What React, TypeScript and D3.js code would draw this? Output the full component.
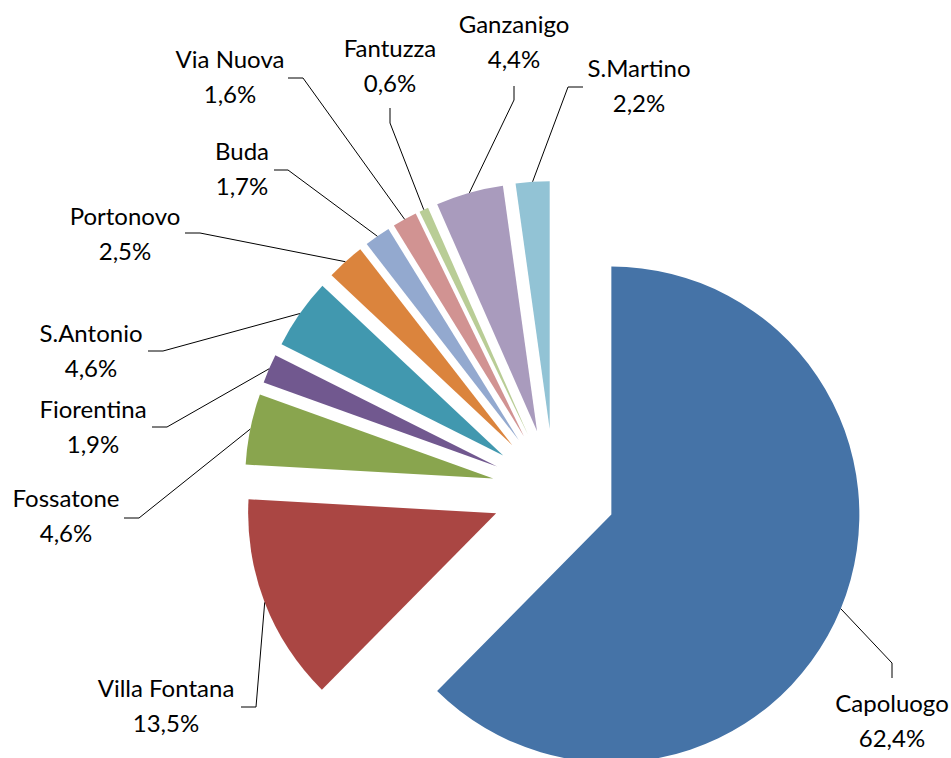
import React from "react";
import * as d3 from "d3";

const categories = [
  "Capoluogo",
  "Villa Fontana",
  "Fossatone",
  "Fiorentina",
  "S.Antonio",
  "Portonovo",
  "Buda",
  "Via Nuova",
  "Fantuzza",
  "Ganzanigo",
  "S.Martino",
];
const values = [62.4, 13.5, 4.6, 1.9, 4.6, 2.5, 1.7, 1.6, 0.6, 4.4, 2.2];
const colors = [
  "#4573A7",
  "#AA4643",
  "#89A54E",
  "#71588F",
  "#4198AF",
  "#DB843D",
  "#93A9CF",
  "#D19392",
  "#B9CD96",
  "#A99BBD",
  "#92C3D5",
];

// label layout (manually placed labels, as in the original)
const labelX = [892, 166, 66, 93, 91, 125, 242, 230, 390, 514, 639];
const labelY = [712, 697, 507, 418, 342, 225, 160, 68, 57, 33, 77];
const elbows = [
  [892, 663], [256, 707], [139, 518], [167, 427], [163, 351], [200, 233],
  [288, 170], [303, 78], [390, 123], [514, 100], [568, 87],
];
const stubs = [
  [892, 678], [241, 707], [124, 518], [152, 427], [148, 351], [185, 233],
  [274, 170], [288, 78], [390, 108], [514, 86], [583, 87],
];

const W = 951;
const H = 758;
const CX = 554;
const CY = 491;
const R = 248;
const EXPLODE = 62;
const LINE = 35;
const FONT = "Lato, 'Open Sans', sans-serif";
const FONT_SIZE = 24;

const fmt = (v: number) => v.toFixed(1).replace(".", ",") + "%";

export default function App() {
  const data = categories.map((c, i) => ({ name: c, value: values[i], i }));
  const pie = d3
    .pie<any>()
    .sort(null)
    .value((d) => d.value)
    .startAngle(0)
    .endAngle(Math.PI * 2);
  const arcs = pie(data);
  const arc = d3.arc<any>().innerRadius(0).outerRadius(R);

  return (
    <svg
      width={W}
      height={H}
      style={{ position: "absolute", left: 0, top: 0, background: "#fff" }}
    >
      <rect x={0} y={0} width={W} height={H} fill="#fff" />
      <g transform={`translate(${CX},${CY})`}>
        {arcs.map((a, k) => {
          const mid = (a.startAngle + a.endAngle) / 2;
          const dx = Math.sin(mid) * EXPLODE;
          const dy = -Math.cos(mid) * EXPLODE;
          return (
            <path
              key={k}
              d={arc(a) as string}
              transform={`translate(${dx},${dy})`}
              fill={colors[k]}
            />
          );
        })}
      </g>
      {arcs.map((a, k) => {
        const mid = (a.startAngle + a.endAngle) / 2;
        const px = CX + Math.sin(mid) * (EXPLODE + R);
        const py = CY - Math.cos(mid) * (EXPLODE + R);
        const [ex, ey] = elbows[k];
        const [sx, sy] = stubs[k];
        return (
          <polyline
            key={"l" + k}
            points={`${px},${py} ${ex},${ey} ${sx},${sy}`}
            fill="none"
            stroke="#000"
            strokeWidth={1}
          />
        );
      })}
      {arcs.map((a, k) => (
        <text
          key={"t" + k}
          x={labelX[k]}
          y={labelY[k]}
          textAnchor="middle"
          fontFamily={FONT}
          fontSize={FONT_SIZE}
          fill="#000"
        >
          <tspan x={labelX[k]} y={labelY[k]}>
            {a.data.name}
          </tspan>
          <tspan x={labelX[k]} y={labelY[k] + LINE}>
            {fmt(a.data.value)}
          </tspan>
        </text>
      ))}
    </svg>
  );
}
